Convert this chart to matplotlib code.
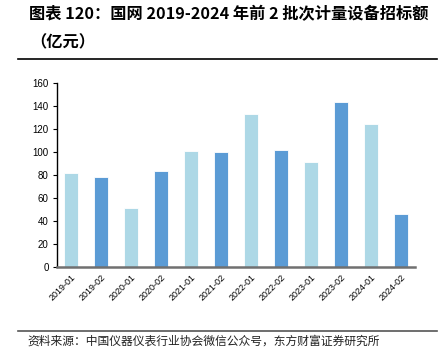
import matplotlib
matplotlib.use("Agg")
import matplotlib.pyplot as plt
from matplotlib.lines import Line2D

plt.rcParams['font.family'] = ['Noto Sans CJK SC', 'DejaVu Sans']

categories = ["2019-01", "2019-02", "2020-01", "2020-02", "2021-01", "2021-02",
              "2022-01", "2022-02", "2023-01", "2023-02", "2024-01", "2024-02"]
values = [82, 78, 51, 83, 101, 100, 133, 102, 91, 143, 124, 46]
yticks = [0, 20, 40, 60, 80, 100, 120, 140, 160]

light = "#ADD8E6"
dark = "#5B9BD5"
colors = [light if c.endswith("01") else dark for c in categories]

W, H = 440, 359
fig = plt.figure(figsize=(W / 100, H / 100), dpi=100)
ax = fig.add_axes([57 / W, 1 - 267 / H, (415 - 57) / W, (267 - 82.7) / H])

x = list(range(len(categories)))
ax.bar(x, values, width=0.47, color=colors, edgecolor="white", linewidth=0.6, zorder=2)
ax.set_xlim(-0.47, len(categories) - 0.53)
ax.set_ylim(0, 160)
ax.set_yticks(yticks)
ax.set_yticklabels([str(t) for t in yticks], fontsize=7, family=['Liberation Sans', 'DejaVu Sans'])
ax.set_xticks(x)
ax.set_xticklabels(categories, rotation=45, ha="right", rotation_mode="anchor",
                   fontsize=6.5, family=['Liberation Sans', 'DejaVu Sans'])
ax.tick_params(axis='x', length=0, pad=4)
ax.tick_params(axis='y', length=3, width=0.8, direction='out', pad=3)
for s in ["top", "right"]:
    ax.spines[s].set_visible(False)
ax.spines["left"].set_color("black")
ax.spines["left"].set_linewidth(1.0)
ax.spines["bottom"].set_color("#707070")
ax.spines["bottom"].set_linewidth(1.8)
ax.spines["bottom"].set_zorder(3)

fig.text(29 / W, 1 - 14 / H, "图表 120：国网 2019-2024 年前 2 批次计量设备招标额",
         fontsize=11.7, fontweight="bold", va="center", ha="left")
fig.text(30 / W, 1 - 42 / H, "（亿元）", fontsize=11.7, fontweight="bold", va="center", ha="left")

fig.add_artist(Line2D([18 / W, 437 / W], [1 - 59 / H, 1 - 59 / H], color="black", linewidth=1.2))
fig.add_artist(Line2D([18 / W, 437 / W], [1 - 331 / H, 1 - 331 / H], color="#555555", linewidth=1.2))

fig.text(27 / W, 1 - 341 / H, "资料来源：中国仪器仪表行业协会微信公众号，东方财富证券研究所",
         fontsize=8.5, va="center", ha="left", color="#222222")

fig.savefig("out.png", dpi=100)
